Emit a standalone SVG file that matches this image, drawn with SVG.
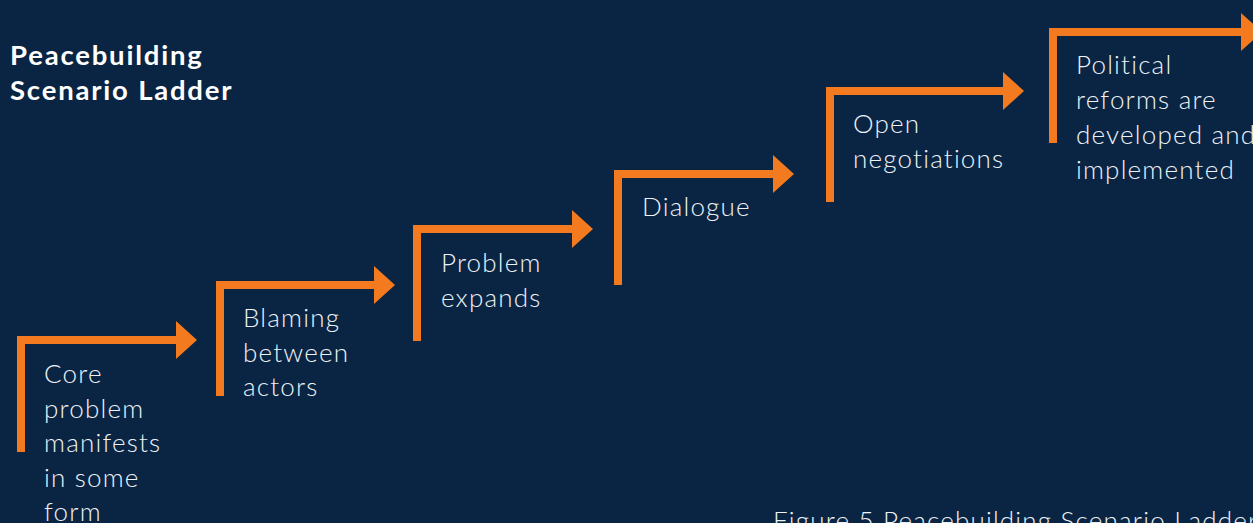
<svg xmlns="http://www.w3.org/2000/svg" width="1253" height="523" viewBox="0 0 1253 523">
<style>
.arrow{fill:#f47a20}
.lbl{font-family:Lato,"Open Sans","Liberation Sans",sans-serif;font-weight:300;font-size:26px;letter-spacing:1.2px;fill:#eef2f7}
.title{font-family:Lato,"Open Sans","Liberation Sans",sans-serif;font-weight:700;font-size:27.5px;letter-spacing:1.8px;fill:#ffffff}
.cap{font-family:Lato,"Open Sans","Liberation Sans",sans-serif;font-weight:300;font-size:26px;letter-spacing:1.2px;fill:#eef2f7}
</style>
<rect width="1253" height="523" fill="#0a2543"/>
<g id="title">
<text class="title" x="10" y="65">Peacebuilding</text>
<text class="title" x="10" y="100">Scenario Ladder</text>
</g>
<g id="connectors"></g>
<g id="step1">
<path class="arrow" d="M17,452 L17,336 L176,336 L176,321 L197,340 L176,359 L176,344 L25,344 L25,452 Z"/>
<text class="lbl" x="44" y="383">Core</text>
<text class="lbl" x="44" y="417.5">problem</text>
<text class="lbl" x="44" y="452">manifests</text>
<text class="lbl" x="44" y="486.5">in some</text>
<text class="lbl" x="44" y="521">form</text>
</g>
<g id="step2">
<path class="arrow" d="M216,396 L216,281 L374,281 L374,266 L395,285 L374,304 L374,289 L224,289 L224,396 Z"/>
<text class="lbl" x="243" y="327">Blaming</text>
<text class="lbl" x="243" y="361.5">between</text>
<text class="lbl" x="243" y="396">actors</text>
</g>
<g id="step3">
<path class="arrow" d="M413,341 L413,225 L572,225 L572,210 L593,229 L572,248 L572,233 L421,233 L421,341 Z"/>
<text class="lbl" x="441" y="272">Problem</text>
<text class="lbl" x="441" y="306.5">expands</text>
</g>
<g id="step4">
<path class="arrow" d="M614,285 L614,170 L773,170 L773,155 L794,174 L773,193 L773,178 L622,178 L622,285 Z"/>
<text class="lbl" x="642" y="216">Dialogue</text>
</g>
<g id="step5">
<path class="arrow" d="M826,202 L826,87 L1003,87 L1003,72 L1024,91 L1003,110 L1003,95 L834,95 L834,202 Z"/>
<text class="lbl" x="853" y="133">Open</text>
<text class="lbl" x="853" y="167.5">negotiations</text>
</g>
<g id="step6">
<path class="arrow" d="M1049,143 L1049,28 L1241,28 L1241,13 L1262,32 L1241,51 L1241,36 L1057,36 L1057,143 Z"/>
<text class="lbl" x="1076" y="74">Political</text>
<text class="lbl" x="1076" y="109">reforms are</text>
<text class="lbl" x="1076" y="144">developed and</text>
<text class="lbl" x="1076" y="179">implemented</text>
</g>
<g id="caption">
<text class="cap" x="773" y="530">Figure 5 Peacebuilding Scenario Ladder</text>
</g>
</svg>
